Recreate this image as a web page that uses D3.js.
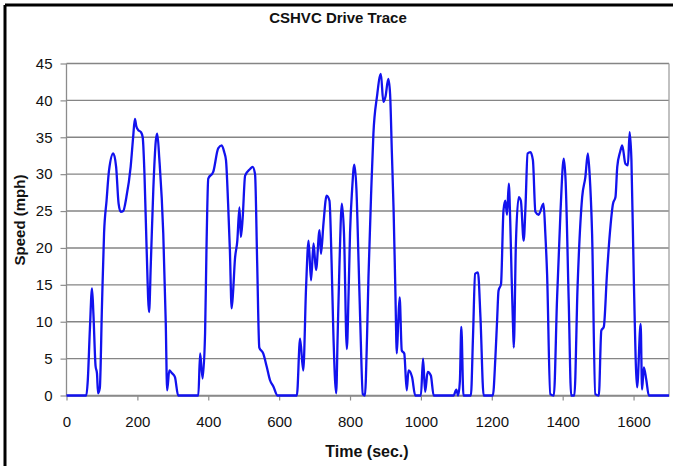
<!DOCTYPE html>
<html><head><meta charset="utf-8">
<script src="https://cdn.jsdelivr.net/npm/d3@7/dist/d3.min.js"></script>
<style>html,body{margin:0;padding:0;background:#fff;}svg{display:block;}</style>
</head><body>
<svg id="c" width="673" height="466"></svg>
<script>
const chartTitle = "CSHVC Drive Trace";
const xTitle = "Time (sec.)";
const yTitle = "Speed (mph)";
const xTicks = [0,200,400,600,800,1000,1200,1400,1600];
const yTicks = [0,5,10,15,20,25,30,35,40,45];
const timeSec = [0,56,60,66,72,76,82,86,89,94,100,106,113,120,132,140,147,153,160,169,181,188,193,197,202,210,215,220,226,233,238,245,252,256,262,273,280,284,290,298,306,315,372,377,384,391,395,400,414,428,438,445,450,456,461,466,470,475,482,488,492,497,504,518,525,532,538,544,555,565,574,584,595,650,659,668,676,683,690,697,704,714,718,725,734,742,748,753,761,765,770,777,783,791,796,800,806,812,818,824,830,836,842,848,852,860,866,876,887,894,900,908,913,918,923,928,932,936,940,946,953,960,965,975,984,1000,1006,1012,1019,1028,1036,1092,1100,1105,1110,1114,1120,1141,1147,1153,1161,1168,1177,1203,1210,1215,1219,1226,1233,1238,1243,1248,1252,1256,1260,1262,1268,1276,1282,1290,1295,1301,1309,1316,1323,1332,1346,1351,1356,1365,1375,1384,1394,1403,1408,1417,1424,1433,1442,1455,1464,1471,1476,1483,1492,1502,1509,1516,1525,1533,1542,1549,1554,1562,1568,1577,1584,1589,1594,1601,1610,1620,1624,1629,1636,1643,1700];
const speedMph = [0,0,2,9,14.5,11,4,3,0.3,1,12,22,26.4,30.5,32.8,31,26,24.9,25,26.9,31,35,37.5,36.5,36,35.7,35,30,20,11.3,18,28,34.5,35.5,32,22,10,0.7,3.4,3,2.5,0,0,5.7,2.3,8.4,20,29.4,30.3,33.5,33.9,33,31.9,26,19.7,11.8,14,18.3,21,25.5,21.5,24,29.8,30.7,31,30,18,6.5,5.7,3.9,2.1,1.2,0,0,7.7,3.4,14.7,21,15.6,20.6,17,22.4,19.2,23.3,27.1,26.4,18,8.4,0.3,8,17.4,26,21.9,6.3,14,22,28,31.3,28,18.3,8,0.2,0,8,16,28,35.5,40.5,43.6,39.8,40.5,42.9,40.9,33,25,14,5.7,10,13.3,6.1,5.7,0.7,3.4,2.5,0,0,5,0.5,3.2,2.7,0,0,0.8,0,2,9.3,0,0,8,16.5,16.7,10.6,0,0,5,10.2,14.2,15.1,25.1,26.4,24.5,28.7,23.7,16,9.3,6.5,20.6,26.9,26.4,21,25.5,32.8,33,31.9,24.9,24.5,26,22,16.5,0.2,0,12.9,25.1,32.1,29.4,12.9,0,0,14.7,26.9,29.6,32.8,30,21.9,0.2,0,8.8,9.3,16.5,21.9,26,26.9,31,33,33.9,31.4,31.2,35.7,31.9,15.1,1.1,9.7,0.8,3.8,2.1,0,0];

const svg = d3.select("#c");
const L = 66.5, R = 669, T = 63.5, B = 395.5;
const x = d3.scaleLinear().domain([0,1700]).range([L,R]);
const y = d3.scaleLinear().domain([0,45]).range([B,T]);
const font = "'Liberation Sans', Arial, sans-serif";

// outer frame (cropped: only top and left visible)
svg.append("line").attr("x1",5).attr("x2",673).attr("y1",5).attr("y2",5).attr("stroke","#000").attr("stroke-width",3);
svg.append("line").attr("x1",5).attr("x2",5).attr("y1",5).attr("y2",466).attr("stroke","#000").attr("stroke-width",3);

// gridlines
svg.append("g").selectAll("line").data(yTicks).join("line")
  .attr("x1",L).attr("x2",R).attr("y1",d=>y(d)).attr("y2",d=>y(d))
  .attr("stroke","#858585").attr("stroke-width",1.4);
// right border
svg.append("line").attr("x1",R).attr("x2",R).attr("y1",T).attr("y2",B).attr("stroke","#a0a0a0").attr("stroke-width",1.3);

// y axis
const yAxis = svg.append("g").attr("transform",`translate(${L},0)`)
  .call(d3.axisLeft(y).tickValues(yTicks).tickSize(6).tickPadding(8).tickFormat(d3.format("d")));
// x axis
const xAxis = svg.append("g").attr("transform",`translate(0,${B})`)
  .call(d3.axisBottom(x).tickValues(xTicks).tickSize(5).tickPadding(16).tickSizeOuter(0).tickFormat(d3.format("d")));
[yAxis,xAxis].forEach(a=>{
  a.selectAll("path.domain").attr("stroke","#8c8c8c").attr("stroke-width",1.3);
  a.selectAll(".tick line").attr("stroke","#8c8c8c").attr("stroke-width",1.2);
  a.selectAll("text").attr("font-family",font).attr("font-size",15).attr("fill","#111");
});
yAxis.select("path.domain").attr("d",`M0,${T}V${B}`);

// trace
const pts = timeSec.map((t,i)=>[t,speedMph[i]]);
svg.append("path").datum(pts)
  .attr("fill","none").attr("stroke","#1212ee").attr("stroke-width",2.3).attr("stroke-linejoin","round")
  .attr("d",d3.line().curve(d3.curveMonotoneX).x(d=>x(d[0])).y(d=>y(d[1])));

// titles
svg.append("text").attr("x",338).attr("y",23).attr("text-anchor","middle")
  .attr("font-family",font).attr("font-weight","bold").attr("font-size",15).attr("fill","#111").text(chartTitle);
svg.append("text").attr("x",367).attr("y",457).attr("text-anchor","middle")
  .attr("font-family",font).attr("font-weight","bold").attr("font-size",16).attr("fill","#111").text(xTitle);
svg.append("text").attr("transform","translate(25,220) rotate(-90)").attr("text-anchor","middle")
  .attr("font-family",font).attr("font-weight","bold").attr("font-size",15).attr("fill","#111").text(yTitle);
</script>
</body></html>
